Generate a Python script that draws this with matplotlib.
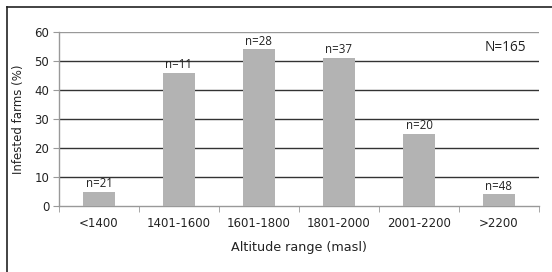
import matplotlib
matplotlib.use("Agg")
import matplotlib.pyplot as plt
from matplotlib.lines import Line2D

categories = ["<1400", "1401-1600", "1601-1800", "1801-2000", "2001-2200", ">2200"]
values = [5, 46, 54, 51, 25, 4]
counts = ["n=21", "n=11", "n=28", "n=37", "n=20", "n=48"]
total_label = "N=165"

W, H = 552, 272
fig = plt.figure(figsize=(W / 100, H / 100), dpi=100)
ax = fig.add_axes([59 / W, 1 - 206 / H, 480 / W, 174 / H])

x = list(range(len(categories)))
ax.bar(x, values, width=0.41, color="#b3b3b3", zorder=3)
ax.set_xlim(-0.5, len(categories) - 0.5)
ax.set_ylim(0, 60)
ax.set_yticks(range(0, 61, 10))
for yv in range(10, 60, 10):
    ax.axhline(yv, color="#333333", lw=1.0, zorder=1)
ax.axhline(60, color="#999999", lw=1.0, zorder=1)

for s in ["top", "right"]:
    ax.spines[s].set_visible(False)
for s in ["left", "bottom"]:
    ax.spines[s].set_color("#999999")
    ax.spines[s].set_linewidth(1.0)

ax.set_xticks(x)
ax.set_xticklabels(categories, fontsize=8.5, family="DejaVu Sans", color="#222222")
ax.tick_params(axis="x", length=0, pad=8)
ax.set_xticks([i - 0.5 for i in range(len(categories) + 1)], minor=True)
ax.tick_params(axis="x", which="minor", length=4, color="#999999", direction="out")
ax.tick_params(axis="y", length=4, color="#999999", labelsize=8.5, pad=3)
for lab in ax.get_yticklabels():
    lab.set_family("DejaVu Sans")
    lab.set_color("#222222")

for xi, v, c in zip(x, values, counts):
    ax.text(xi, v + 0.6, c, ha="center", va="bottom", fontsize=8.3,
            family="Open Sans", color="#222222")

ax.text(0.93, 0.91, total_label, transform=ax.transAxes, ha="center", va="center",
        fontsize=9.8, family="Open Sans", color="#222222")

ax.set_xlabel("Altitude range (masl)", fontsize=9.2, family="DejaVu Sans",
              color="#222222", labelpad=8)
ax.set_ylabel("Infested farms (%)", fontsize=8.5, family="DejaVu Sans",
              color="#222222", labelpad=7)

# outer frame (left and top edges)
fig.add_artist(Line2D([6.5 / W, 6.5 / W], [0, 1 - 7 / H], transform=fig.transFigure,
                      color="#222222", lw=1.2))
fig.add_artist(Line2D([6.5 / W, 1], [1 - 7 / H, 1 - 7 / H], transform=fig.transFigure,
                      color="#222222", lw=1.2))

fig.savefig("out.png", dpi=100)
